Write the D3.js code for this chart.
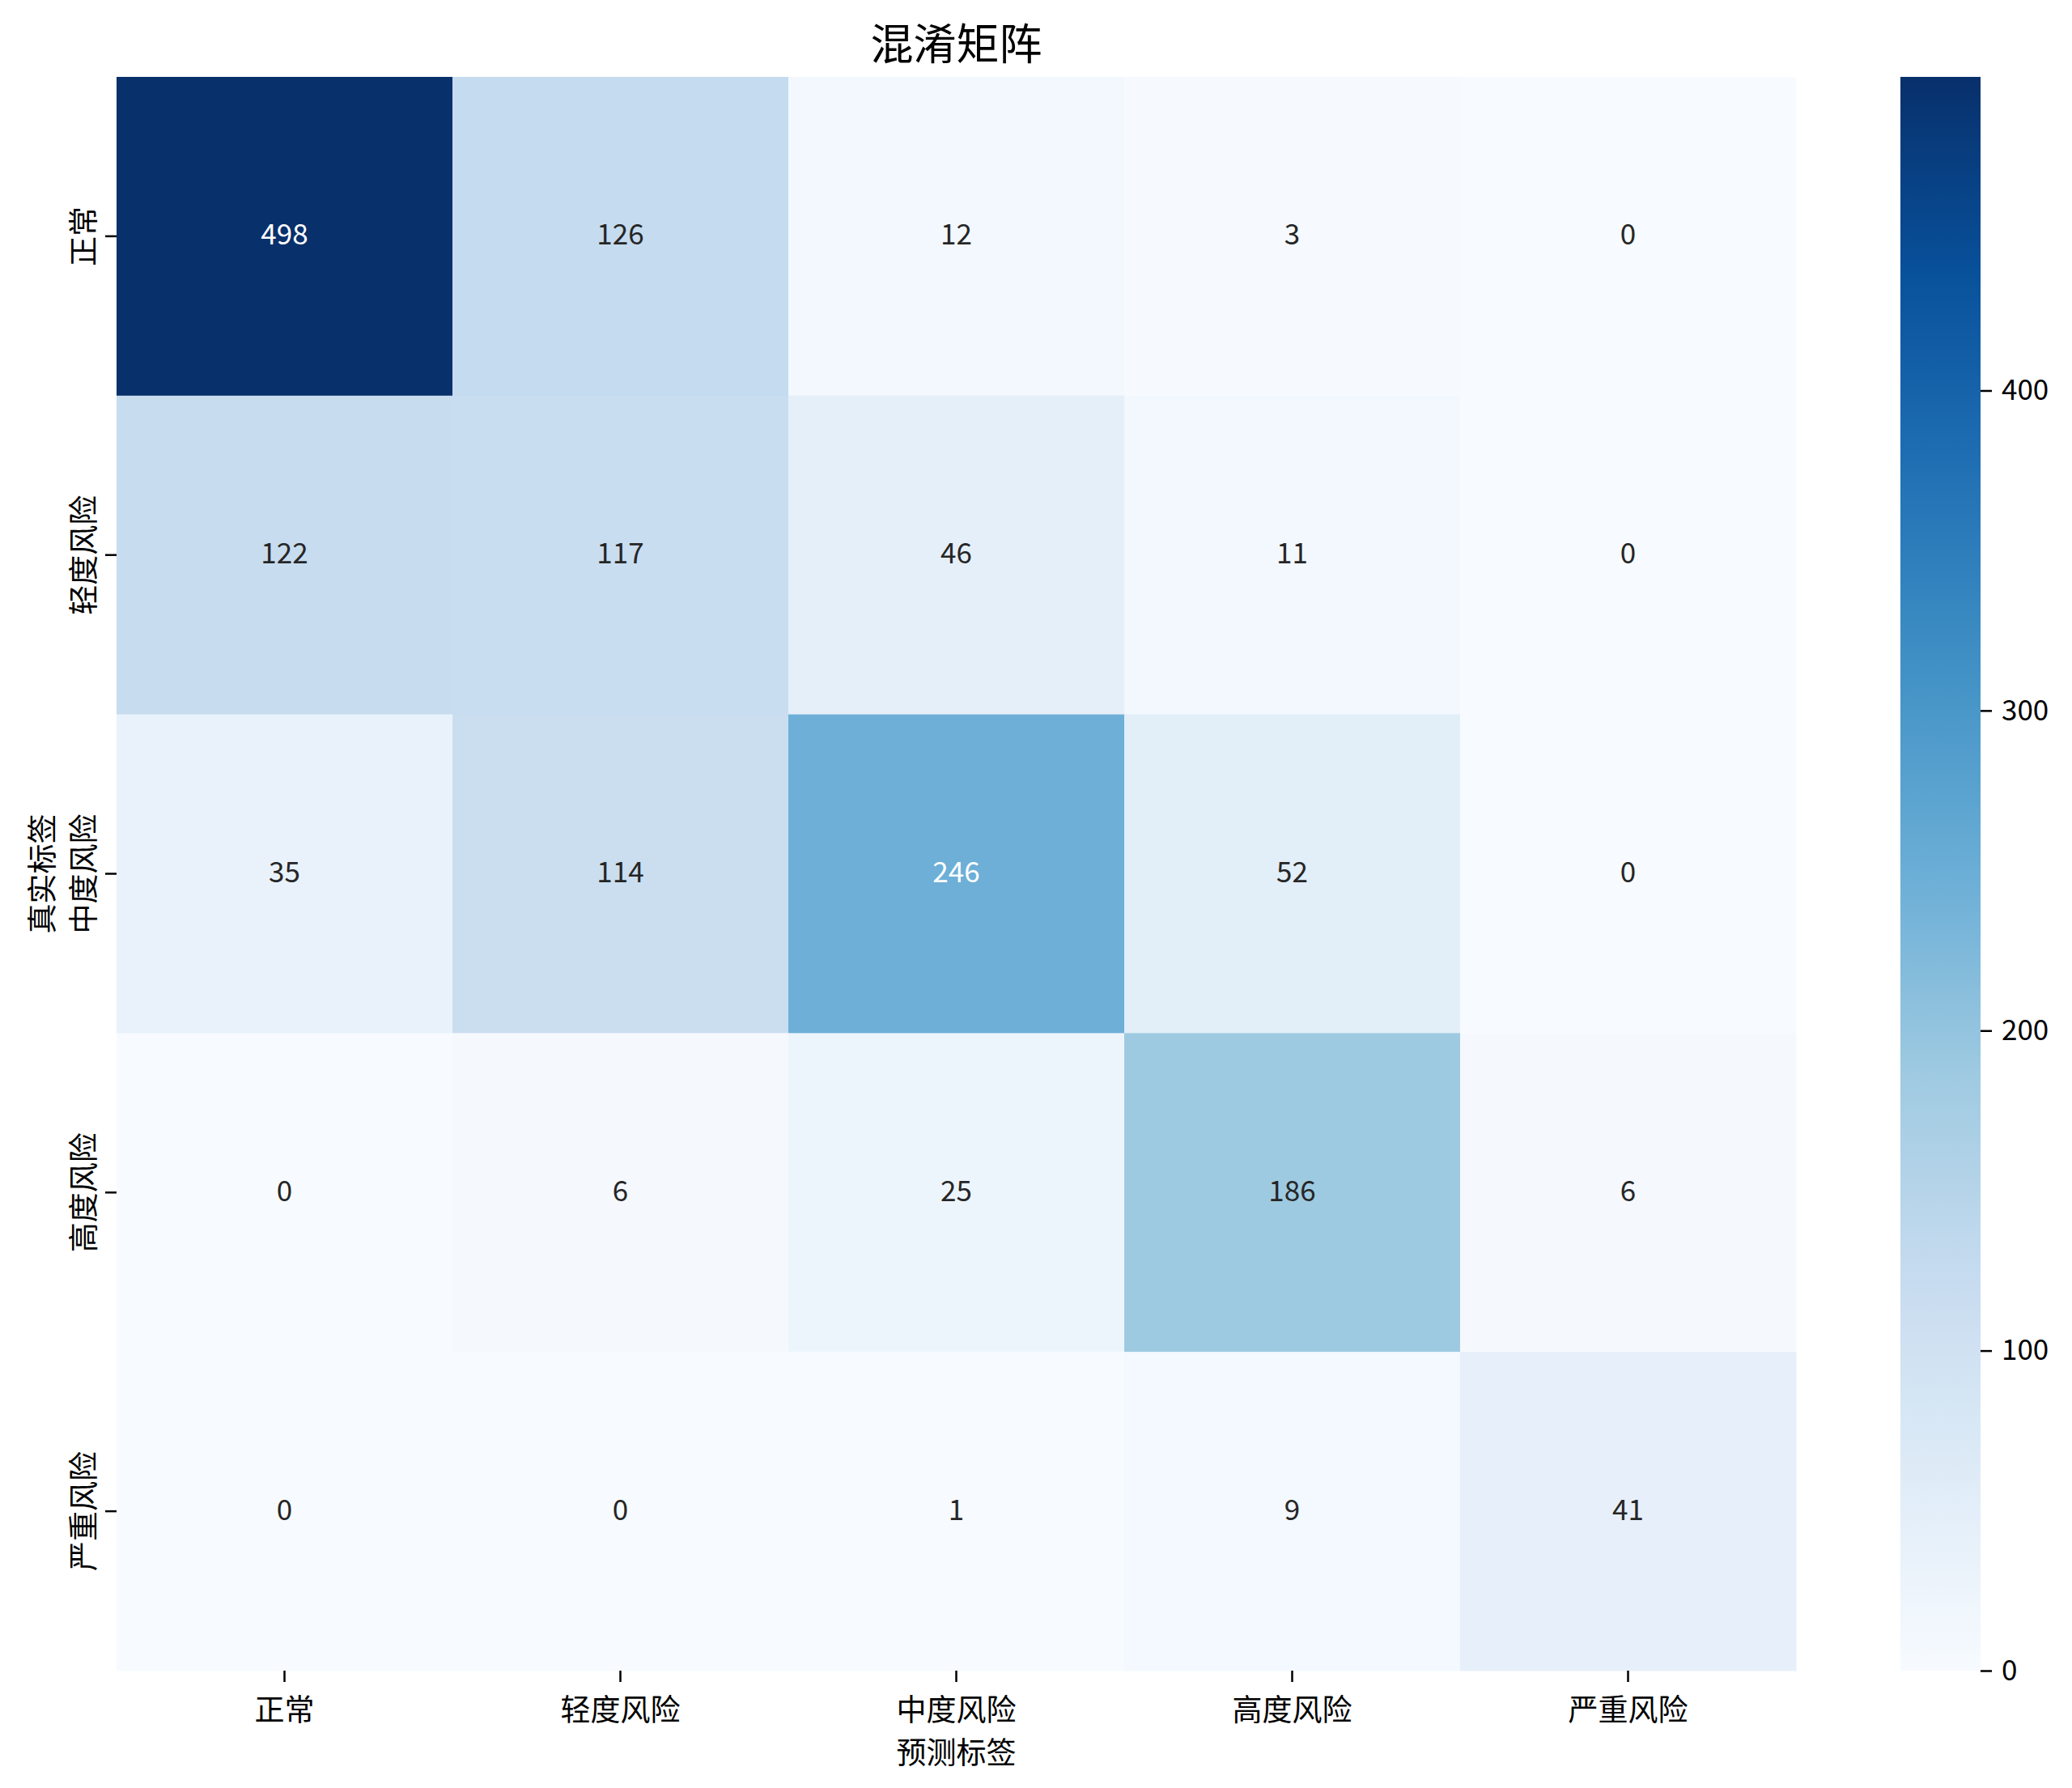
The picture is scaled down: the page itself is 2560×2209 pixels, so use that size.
<!DOCTYPE html>
<html>
<head>
<meta charset="utf-8">
<script src="https://cdn.jsdelivr.net/npm/d3@7"></script>
<style>
  body { margin: 0; background: #fff; }
  text { font-family: "Noto Sans CJK SC", "DejaVu Sans", sans-serif; }
</style>
</head>
<body>
<div id="chart"></div>
<script>
// labels for predicted (columns) and true (rows) classes
const predLabels = ["正常", "轻度风险", "中度风险", "高度风险", "严重风险"];
const trueLabels = ["正常", "轻度风险", "中度风险", "高度风险", "严重风险"];

// confusion matrix rows = true label, columns = predicted label
const row0 = [498, 126, 12, 3, 0];
const row1 = [122, 117, 46, 11, 0];
const row2 = [35, 114, 246, 52, 0];
const row3 = [0, 6, 25, 186, 6];
const row4 = [0, 0, 1, 9, 41];
const matrix = [row0, row1, row2, row3, row4];

const cbarTicks = [0, 100, 200, 300, 400];

const W = 2560, H = 2209;
const hm = { left: 144, top: 95, right: 2219, bottom: 2064 };
const cb = { left: 2348, right: 2447 };

const svg = d3.select("#chart").append("svg")
  .attr("width", W)
  .attr("height", H);

svg.append("rect").attr("width", W).attr("height", H).attr("fill", "#fff");

const cells = [];
matrix.forEach((r, i) => r.forEach((v, j) => cells.push({ row: i, col: j, value: v })));
const vmax = d3.max(cells, d => d.value);

// matplotlib "Blues" = linear segments through the 9 ColorBrewer colours
const blues = d3.schemeBlues[9];
const color = d3.scaleLinear()
  .domain(blues.map((c, i) => vmax * i / (blues.length - 1)))
  .range(blues)
  .interpolate(d3.interpolateRgb)
  .clamp(true);

const x = d3.scaleBand().domain(predLabels).range([hm.left, hm.right]);
const y = d3.scaleBand().domain(trueLabels).range([hm.top, hm.bottom]);

svg.append("g").selectAll("rect")
  .data(cells)
  .join("rect")
  .attr("x", d => x(predLabels[d.col]))
  .attr("y", d => y(trueLabels[d.row]))
  .attr("width", x.bandwidth() + 0.5)
  .attr("height", y.bandwidth() + 0.5)
  .attr("fill", d => color(d.value));

// seaborn picks white/dark text by luminance of the cell colour
function lum(c) {
  const rgb = d3.rgb(c);
  const f = v => { v /= 255; return v <= 0.03928 ? v / 12.92 : Math.pow((v + 0.055) / 1.055, 2.4); };
  return 0.2126 * f(rgb.r) + 0.7152 * f(rgb.g) + 0.0722 * f(rgb.b);
}

svg.append("g").selectAll("text")
  .data(cells)
  .join("text")
  .attr("x", d => x(predLabels[d.col]) + x.bandwidth() / 2)
  .attr("y", d => y(trueLabels[d.row]) + y.bandwidth() / 2 - 5)
  .attr("text-anchor", "middle")
  .attr("dominant-baseline", "central")
  .attr("font-size", 35)
  .attr("fill", d => lum(color(d.value)) < 0.408 ? "#fff" : "#262626")
  .text(d => d.value);

// x axis
const xAxis = svg.append("g")
  .attr("transform", `translate(0,${hm.bottom})`)
  .call(d3.axisBottom(x).tickSize(14).tickPadding(14));
xAxis.select(".domain").remove();
xAxis.selectAll(".tick line").attr("stroke", "#000").attr("stroke-width", 2.5);
xAxis.selectAll(".tick text")
  .attr("font-size", 37)
  .attr("fill", "#000")
  .attr("dy", null)
  .attr("y", 46)
  .attr("dominant-baseline", "central");

// y axis, labels rotated vertical
const yAxis = svg.append("g")
  .attr("transform", `translate(${hm.left},0)`)
  .call(d3.axisLeft(y).tickSize(14));
yAxis.select(".domain").remove();
yAxis.selectAll(".tick line").attr("stroke", "#000").attr("stroke-width", 2.5);
yAxis.selectAll(".tick text")
  .attr("font-size", 37)
  .attr("fill", "#000")
  .attr("x", null)
  .attr("dy", null)
  .attr("text-anchor", "middle")
  .attr("dominant-baseline", "central")
  .attr("transform", "translate(-43,0) rotate(-90)");

// titles
svg.append("text")
  .attr("x", (hm.left + hm.right) / 2)
  .attr("y", 51)
  .attr("text-anchor", "middle")
  .attr("dominant-baseline", "central")
  .attr("font-size", 53)
  .attr("fill", "#000")
  .text("混淆矩阵");

svg.append("text")
  .attr("x", (hm.left + hm.right) / 2)
  .attr("y", 2163)
  .attr("text-anchor", "middle")
  .attr("dominant-baseline", "central")
  .attr("font-size", 37)
  .attr("fill", "#000")
  .text("预测标签");

svg.append("text")
  .attr("transform", `translate(50,${(hm.top + hm.bottom) / 2}) rotate(-90)`)
  .attr("text-anchor", "middle")
  .attr("dominant-baseline", "central")
  .attr("font-size", 37)
  .attr("fill", "#000")
  .text("真实标签");

// colorbar
const cbScale = d3.scaleLinear().domain([0, vmax]).range([hm.bottom, hm.top]);
const grad = svg.append("defs").append("linearGradient")
  .attr("id", "cbgrad")
  .attr("x1", 0).attr("y1", 1).attr("x2", 0).attr("y2", 0);
grad.selectAll("stop")
  .data(d3.range(0, 1.0001, 0.02))
  .join("stop")
  .attr("offset", d => d)
  .attr("stop-color", d => color(d * vmax));

svg.append("rect")
  .attr("x", cb.left)
  .attr("y", hm.top)
  .attr("width", cb.right - cb.left)
  .attr("height", hm.bottom - hm.top)
  .attr("fill", "url(#cbgrad)");

const cAxis = svg.append("g")
  .attr("transform", `translate(${cb.right},0)`)
  .call(d3.axisRight(cbScale).tickValues(cbarTicks).tickSize(14).tickPadding(12));
cAxis.select(".domain").remove();
cAxis.selectAll(".tick line").attr("stroke", "#000").attr("stroke-width", 2.5);
cAxis.selectAll(".tick text")
  .attr("font-size", 35)
  .attr("fill", "#000");
</script>
</body>
</html>
